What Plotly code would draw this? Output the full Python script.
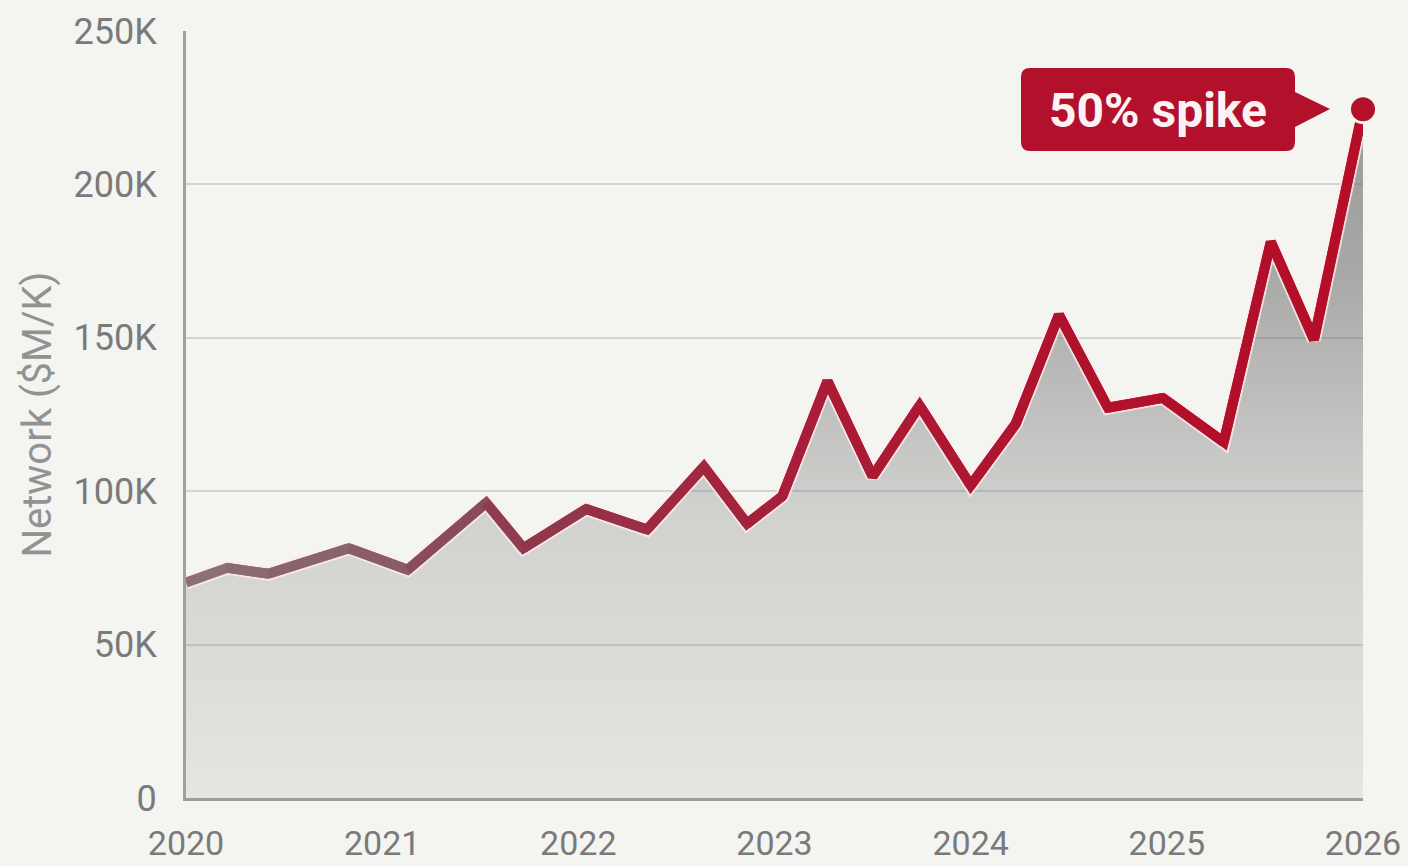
import plotly.graph_objects as go

# ---------------- data ----------------
years = [2020.0, 2020.21, 2020.42, 2020.83, 2021.13, 2021.53, 2021.72, 2022.04,
         2022.35, 2022.64, 2022.86, 2023.04, 2023.27, 2023.50, 2023.74, 2024.0,
         2024.23, 2024.45, 2024.70, 2024.98, 2025.29, 2025.53, 2025.75, 2026.0]
values = [70200, 75000, 73100, 81400, 74400, 96200, 81400, 94200,
          87500, 108000, 89400, 98400, 135900, 104800, 127900, 101900,
          122000, 157500, 127200, 130400, 116000, 181300, 149400, 224500]

x_ticks = [2020, 2021, 2022, 2023, 2024, 2025, 2026]
x_tick_labels = ["2020", "2021", "2022", "2023", "2024", "2025", "2026"]
y_ticks = [0, 50000, 100000, 150000, 200000, 250000]
y_tick_labels = ["0", "50K", "100K", "150K", "200K", "250K"]

y_title = "Network ($M/K)"
callout_text = "50% spike"

# ---------------- style ----------------
W, H = 1408, 866
ML, MR, MT, MB = 186, 45, 31, 68
PW, PH = W - ML - MR, H - MT - MB
BG = "#f4f4f1"
FONT = "Roboto"
RED = "#b3102c"

line_stops = [(2020.0, (140, 114, 120)), (2021.0, (137, 92, 102)),
              (2021.6, (140, 62, 78)), (2022.4, (158, 42, 66)),
              (2023.3, (170, 28, 54)), (2024.5, (176, 18, 44)),
              (2026.0, (180, 14, 40))]


def line_color(xv):
    for (x0, c0), (x1, c1) in zip(line_stops[:-1], line_stops[1:]):
        if x0 <= xv <= x1:
            t = (xv - x0) / (x1 - x0)
            c = [round(a + (b - a) * t) for a, b in zip(c0, c1)]
            return f"rgb({c[0]},{c[1]},{c[2]})"
    c = line_stops[-1][1]
    return f"rgb({c[0]},{c[1]},{c[2]})"


def px2paper(px, py):
    return (px - ML) / PW, (H - MB - py) / PH


fig = go.Figure()

# area fill
fig.add_trace(go.Scatter(
    x=years, y=values, mode="lines", fill="tozeroy",
    line=dict(width=0, color="rgba(0,0,0,0)"),
    fillgradient=dict(
        type="vertical",
        colorscale=[[0, "rgba(105,105,105,0.11)"], [0.4, "rgba(105,105,105,0.25)"],
                    [0.75, "rgba(105,105,105,0.55)"], [1, "rgba(105,105,105,0.66)"]],
        start=0, stop=230000),
    hoverinfo="skip", showlegend=False))

# faint halo under the line
fig.add_trace(go.Scatter(
    x=years, y=values, mode="lines",
    line=dict(width=14, color="rgba(255,235,238,0.8)"),
    hoverinfo="skip", showlegend=False, cliponaxis=False))

# gradient line drawn as overlapping segments
n = len(years)
for i in range(n - 1):
    j = min(i + 3, n)
    xm = (years[i] + years[i + 1]) / 2
    fig.add_trace(go.Scatter(
        x=years[i:j], y=values[i:j], mode="lines",
        line=dict(width=10, color=line_color(xm)),
        hoverinfo="skip", showlegend=False, cliponaxis=False))

# end marker
fig.add_trace(go.Scatter(
    x=years[-1:], y=values[-1:], mode="markers",
    marker=dict(size=27, color=RED, line=dict(width=3, color=BG)),
    hoverinfo="skip", showlegend=False, cliponaxis=False))

# callout shape (rounded box with pointer)
L, R, T, B, r = 1021, 1295, 68, 151, 9
pts = [("M", L + r, T), ("L", R - r, T), ("Q", R, T, R, T + r), ("L", R, 92),
       ("L", 1330, 109), ("L", R, 127), ("L", R, B - r), ("Q", R, B, R - r, B),
       ("L", L + r, B), ("Q", L, B, L, B - r), ("L", L, T + r), ("Q", L, T, L + r, T)]
path = ""
for p in pts:
    cmd, coords = p[0], p[1:]
    parts = []
    for k in range(0, len(coords), 2):
        a, b = px2paper(coords[k], coords[k + 1])
        parts.append(f"{a:.5f},{b:.5f}")
    path += cmd + " " + " ".join(parts) + " "
path += "Z"
fig.add_shape(type="path", path=path, xref="paper", yref="paper",
              fillcolor=RED, line=dict(width=0), layer="above")

tx, ty = px2paper(1158, 110)
fig.add_annotation(x=tx, y=ty, xref="paper", yref="paper", text=callout_text,
                   showarrow=False, xanchor="center", yanchor="middle",
                   font=dict(family=FONT, size=48, color="#fdf2f3", weight=700))

fig.update_layout(
    width=W, height=H,
    margin=dict(l=ML, r=MR, t=MT, b=MB, autoexpand=False),
    paper_bgcolor=BG, plot_bgcolor=BG,
    font=dict(family=FONT, color="#777777"),
    showlegend=False,
)
fig.update_xaxes(
    range=[2020, 2026], tickvals=x_ticks, ticktext=x_tick_labels,
    tickfont=dict(size=34, color="#7a7a7a"),
    showgrid=False, zeroline=False,
    showline=True, linecolor="#9c9c9c", linewidth=3,
    ticks="", ticklabelstandoff=13,
)
fig.update_yaxes(
    range=[0, 250000], tickvals=y_ticks, ticktext=y_tick_labels,
    tickfont=dict(size=36, color="#7a7a7a"),
    showgrid=True, gridcolor="#d4d4d2", gridwidth=2, zeroline=False,
    showline=True, linecolor="#a0a0a0", linewidth=3,
    ticks="", ticklabelstandoff=19,
    title=dict(text=y_title, font=dict(size=40, color="#929292"), standoff=10),
)

fig.write_html("out.html")
